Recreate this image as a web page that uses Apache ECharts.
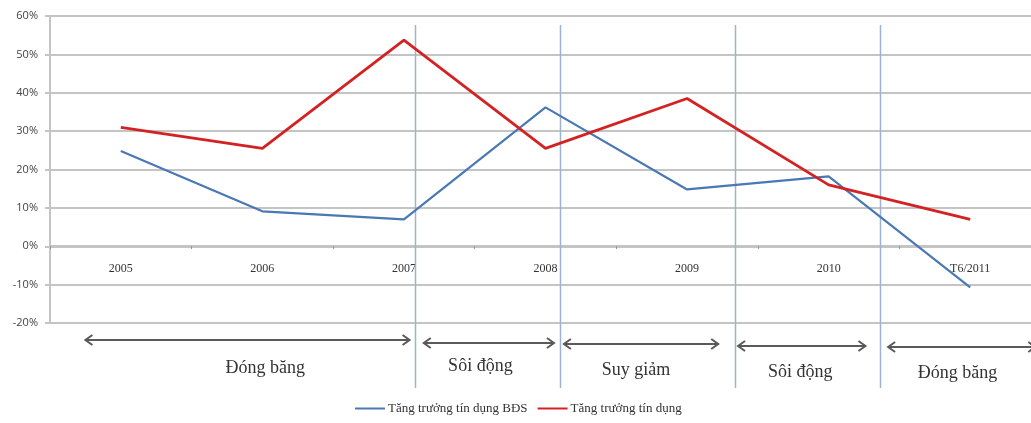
<!DOCTYPE html>
<html><head><meta charset="utf-8">
<script src="https://cdn.jsdelivr.net/npm/echarts@6/dist/echarts.min.js"></script>
<style>html,body{margin:0;padding:0;background:#fff}#c{width:1031px;height:423px}</style>
</head><body><div id="c"></div>
<script>
const categories = ['2005','2006','2007','2008','2009','2010','T6/2011'];
const creditBDS = [24.8, 9.1, 7.0, 36.2, 14.8, 18.2, -10.7];
const credit = [31.0, 25.5, 53.7, 25.5, 38.5, 16.0, 7.0];
const yTicks = {min: -20, max: 60, interval: 10};
// phases (positions in category-index units)
const phaseNames = ['Đóng băng', 'Sôi động', 'Suy giảm', 'Sôi động', 'Đóng băng'];
const phaseStart = [-0.25, 2.14, 3.13, 4.36, 5.42];
const phaseEnd = [2.04, 3.06, 4.22, 5.26, 6.46];
const phaseLabelAt = [1.02, 2.54, 3.64, 4.8, 5.91];
const dividers = [2.08, 3.1, 4.34, 5.36];

const chart = echarts.init(document.getElementById('c'));
const serif = '"Liberation Serif", "DejaVu Serif", serif';
chart.setOption({
  animation: false,
  grid: {left: 50, width: 991, top: 16, height: 307, containLabel: false, outerBoundsMode: 'none'},
  legend: {
    bottom: 3, left: 350, itemWidth: 30, itemHeight: 2, itemGap: 10,
    icon: 'rect',
    textStyle: {fontFamily: serif, fontSize: 13, color: '#333', padding: [0, 0, 0, -2]},
    data: ['Tăng trưởng tín dụng BĐS', 'Tăng trưởng tín dụng']
  },
  xAxis: {
    type: 'category', data: categories, boundaryGap: true,
    axisLine: {onZero: false, lineStyle: {color: '#c4c4c4', width: 2}},
    offset: -77,
    axisTick: {show: true, length: 3, lineStyle: {color: '#999'}},
    axisLabel: {margin: 17, fontFamily: serif, fontSize: 12, color: '#333'}
  },
  yAxis: {
    type: 'value', min: yTicks.min, max: yTicks.max, interval: yTicks.interval,
    axisLine: {show: true, lineStyle: {color: '#c4c4c4', width: 2}},
    axisTick: {show: true, length: 5, lineStyle: {color: '#c4c4c4', width: 2}},
    splitLine: {lineStyle: {color: '#c4c4c4', width: 2}},
    axisLabel: {formatter: '{value}%', margin: 12, fontFamily: '"Open Sans", "DejaVu Sans", sans-serif', fontSize: 11, color: '#444'}
  },
  series: [
    {name: 'Tăng trưởng tín dụng BĐS', type: 'line', data: creditBDS, showSymbol: false,
     lineStyle: {color: '#4a78b4', width: 2.2}, itemStyle: {color: '#4a78b4'}, z: 3},
    {name: 'Tăng trưởng tín dụng', type: 'line', data: credit, showSymbol: false,
     lineStyle: {color: '#d42222', width: 2.8}, itemStyle: {color: '#d42222'}, z: 4}
  ]
});

function px(f) {
  const a = chart.convertToPixel({xAxisIndex: 0}, 0);
  const b = chart.convertToPixel({xAxisIndex: 0}, 1);
  return a + f * (b - a);
}
const arrowY = [340, 343, 344, 346, 347];
const labelY = [368, 366, 370, 372, 373];
const g = [];
dividers.forEach(d => {
  const x = Math.round(px(d)) + 0.5;
  g.push({type: 'line', shape: {x1: x, y1: 25, x2: x, y2: 388}, style: {stroke: '#9fb3cf', lineWidth: 1.5}, z: 1});
});
const ac = '#5a5a5a';
phaseNames.forEach((name, i) => {
  const x1 = px(phaseStart[i]), x2 = px(phaseEnd[i]), y = arrowY[i];
  g.push({type: 'line', shape: {x1: x1, y1: y, x2: x2, y2: y}, style: {stroke: ac, lineWidth: 2}});
  g.push({type: 'polyline', shape: {points: [[x1 + 7, y - 5], [x1, y], [x1 + 7, y + 5]]}, style: {stroke: ac, lineWidth: 2, fill: null}});
  g.push({type: 'polyline', shape: {points: [[x2 - 7, y - 5], [x2, y], [x2 - 7, y + 5]]}, style: {stroke: ac, lineWidth: 2, fill: null}});
  g.push({type: 'text', x: px(phaseLabelAt[i]), y: labelY[i], style: {text: name, fill: '#333', font: '18px ' + serif, align: 'center', verticalAlign: 'middle'}});
});
chart.setOption({graphic: g});
</script>
</body></html>
